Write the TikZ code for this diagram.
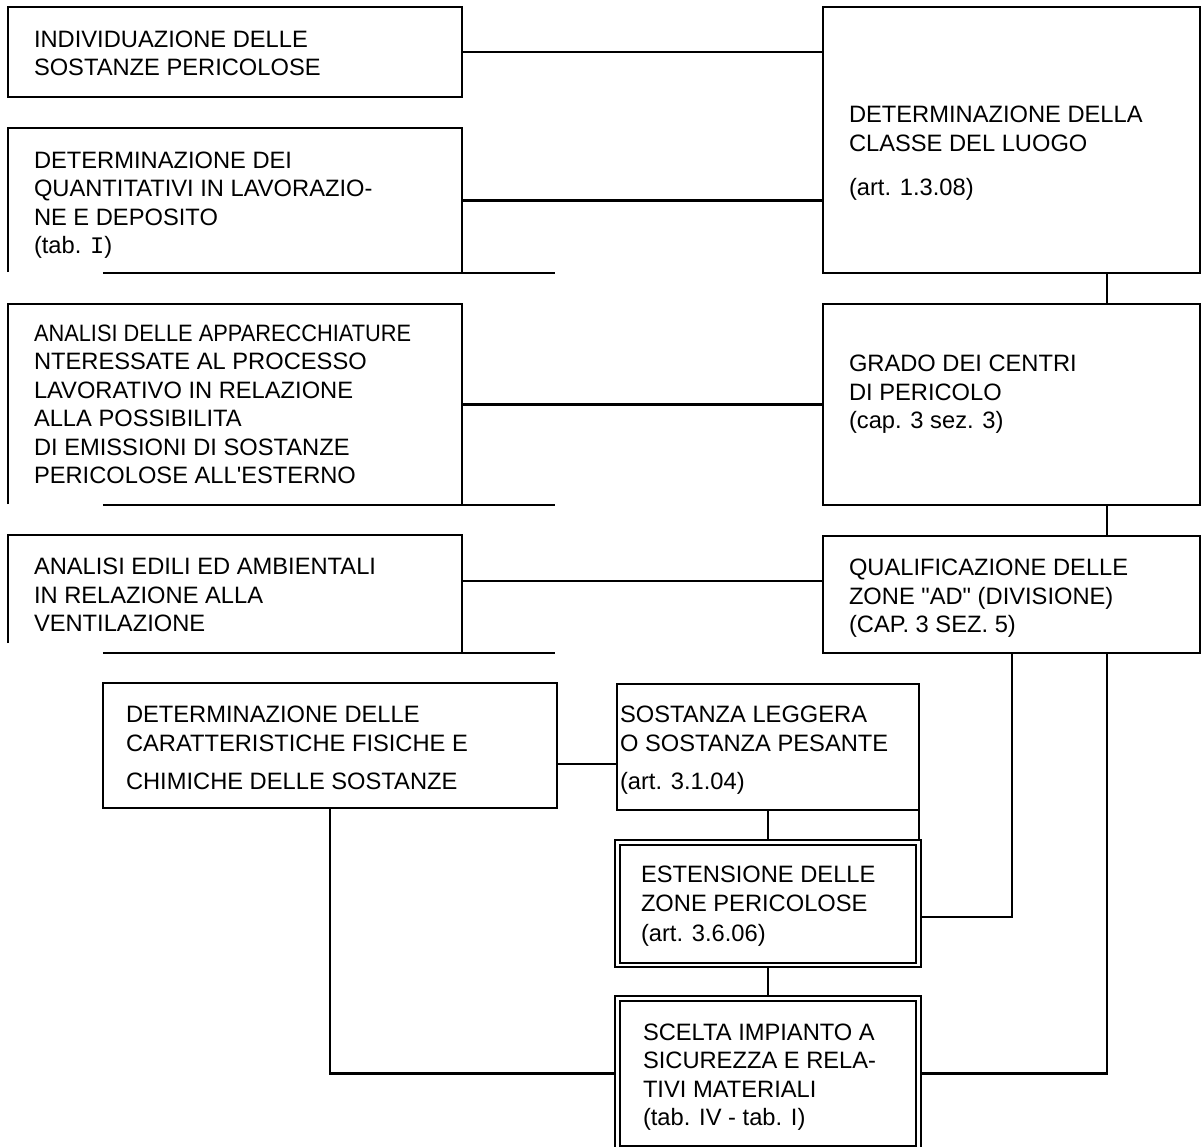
\documentclass[tikz,border=0pt]{standalone}
\usepackage{fontspec}
\usepackage{graphicx}
\setmainfont{Liberation Sans}[Ligatures=TeXOff]
\newfontfamily\monofnt{Liberation Mono}
\usetikzlibrary{calc}
\begin{document}
\begin{tikzpicture}[x=1bp,y=-1bp,
  every node/.style={inner sep=0pt, outer sep=0pt},
  box/.style={rectangle, draw, line width=2.6bp},
  frame/.style={rectangle},
  bline/.style={line width=2.6bp},
  conn/.style={line width=2.6bp},
  dbl/.style={draw, line width=1.8bp, double, double distance=2.8bp},
  txt/.style={anchor=base west, align=left, font=\fontsize{23.7bp}{28.5bp}\selectfont}]
\useasboundingbox[fill=white] (0,0) rectangle (1203,1147);

% boxes
\node[box, minimum width=454bp, minimum height=90bp] (A) at (235,52) {};
\node[frame, minimum width=454bp, minimum height=145bp] (B) at (235,200.5) {};
\node[box, minimum width=377bp, minimum height=266bp] (C) at (1011.5,140) {};
\node[frame, minimum width=454bp, minimum height=201bp] (D) at (235,404.5) {};
\node[box, minimum width=377bp, minimum height=201bp] (E) at (1011.5,404.5) {};
\node[frame, minimum width=454bp, minimum height=118bp] (F) at (235,594) {};
\node[box, minimum width=377bp, minimum height=117bp] (G) at (1011.5,594.5) {};
\node[box, minimum width=454bp, minimum height=125bp] (H) at (330,745.5) {};
\node[box, minimum width=302bp, minimum height=126bp] (I) at (768,747) {};
\node[frame, minimum width=301bp, minimum height=122.5bp] (J) at (768,903.75) {};
\node[frame, minimum width=301bp, minimum height=150bp] (K) at (768,1073.5) {};

% open-cornered boxes
\draw[bline] ($(B.south west)+(0,-1)$) -- (B.north west) -- (B.north east) -- (B.south east);
\draw[bline] ($(B.south west)+(95,0)$) -- ($(B.south east)+(93,0)$);
\draw[bline] ($(D.south west)+(0,-1)$) -- (D.north west) -- (D.north east) -- (D.south east);
\draw[bline] ($(D.south west)+(95,0)$) -- ($(D.south east)+(93,0)$);
\draw[bline] ($(F.south west)+(0,-10)$) -- (F.north west) -- (F.north east) -- (F.south east);
\draw[bline] ($(F.south west)+(95,0)$) -- ($(F.south east)+(93,0)$);

% helper coordinates
\coordinate (xr) at (1107,0);
\coordinate (xm) at (1012,0);
\coordinate (yFG) at (0,581);
\coordinate (yHI) at (0,764);
\coordinate (yJ) at (0,917);

% connectors
\draw[conn] (A.east) -- (A.east -| C.west);
\draw[conn] (B.east) -- (B.east -| C.west);
\draw[conn] (C.south -| xr) -- (E.north -| xr);
\draw[conn] (D.east) -- (D.east -| E.west);
\draw[conn] (E.south -| xr) -- (G.north -| xr);
\draw[conn] (F.east |- yFG) -- (G.west |- yFG);
\draw[conn] (H.east |- yHI) -- (I.west |- yHI);
\draw[conn] (I.south) -- (J.north);
\draw[conn] (I.south east) -- (J.north -| I.east);
\draw[conn] (G.south -| xm) |- (J.east |- yJ);
\draw[conn] (G.south -| xr) |- (K.east);
\draw[conn] (H.south) |- (K.west);
\draw[conn] (J.south) -- (K.north);

% double-framed boxes
\draw[dbl] (J.north west) rectangle (J.south east);
\draw[dbl] (K.north west) rectangle (K.south east);

% texts (anchored at the baseline of the last line)
\node[txt] (At) at (34,75.5) {INDIVIDUAZIONE DELLE\\SOSTANZE PERICOLOSE};
\node[txt] (Bt) at (34,253.5) {DETERMINAZIONE DEI\\QUANTITATIVI IN LAVORAZIO-\\NE E DEPOSITO\\(tab. {\monofnt I})};
\node[txt] (Ct) at (849,195.5) {DETERMINAZIONE DELLA\\CLASSE DEL LUOGO\\[16bp](art. 1.3.08)};
\node[txt] (Dt) at (34,483.5) {\scalebox{0.92}[1]{ANALISI DELLE APPARECCHIATURE}\\NTERESSATE AL PROCESSO\\LAVORATIVO IN RELAZIONE\\ALLA POSSIBILITA\\DI EMISSIONI DI SOSTANZE\\PERICOLOSE ALL'ESTERNO};
\node[txt] (Et) at (849,428.5) {GRADO DEI CENTRI\\DI PERICOLO\\(cap. 3 sez. 3)};
\node[txt] (Ft) at (34,631.5) {ANALISI EDILI ED AMBIENTALI\\IN RELAZIONE ALLA\\VENTILAZIONE};
\node[txt] (Gt) at (849,632.5) {QUALIFICAZIONE DELLE\\ZONE "AD" (DIVISIONE)\\(CAP. 3 SEZ. 5)};
\node[txt] (Ht) at (126,789.5) {DETERMINAZIONE DELLE\\CARATTERISTICHE FISICHE E\\[10bp]CHIMICHE DELLE SOSTANZE};
\node[txt] (It) at (620,789.5) {SOSTANZA LEGGERA\\O SOSTANZA PESANTE\\[10bp](art. 3.1.04)};
\node[txt] (Jt) at (641,941.5) {ESTENSIONE DELLE\\ZONE PERICOLOSE\\[2bp](art. 3.6.06)};
\node[txt] (Kt) at (643,1125.5) {SCELTA IMPIANTO A\\SICUREZZA E RELA-\\TIVI MATERIALI\\(tab. IV - tab. I)};
\end{tikzpicture}
\end{document}
